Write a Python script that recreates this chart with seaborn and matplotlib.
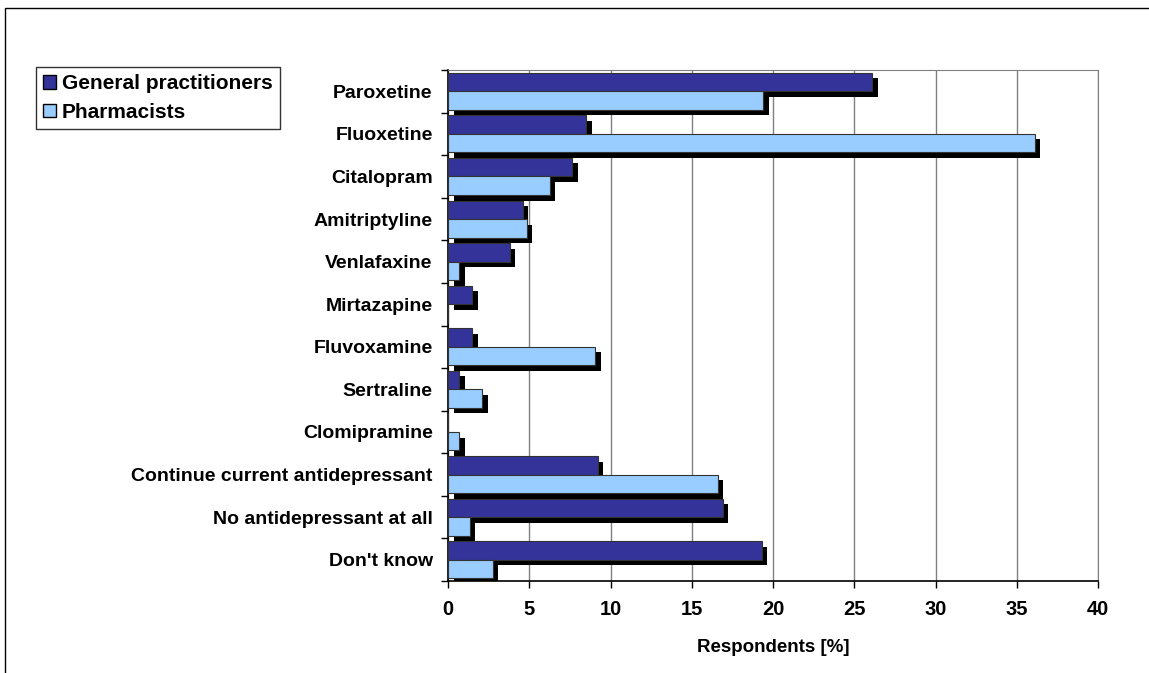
import pandas as pd
import numpy as np
import seaborn as sns
import matplotlib.pyplot as plt
import matplotlib.patheffects as pe
from matplotlib.patches import Rectangle, Patch

drugs = ['Paroxetine', 'Fluoxetine', 'Citalopram', 'Amitriptyline', 'Venlafaxine',
         'Mirtazapine', 'Fluvoxamine', 'Sertraline', 'Clomipramine',
         'Continue current antidepressant', 'No antidepressant at all', "Don't know"]
gp = [26.1, 8.5, 7.65, 4.6, 3.8, 1.5, 1.5, 0.7, 0.0, 9.2, 16.9, 19.3]
pharm = [19.4, 36.1, 6.25, 4.85, 0.7, 0.0, 9.05, 2.1, 0.7, 16.6, 1.35, 2.75]
groups = ['General practitioners', 'Pharmacists']
colors = ['#333399', '#99ccff']
xticks = [0, 5, 10, 15, 20, 25, 30, 35, 40]

df = pd.DataFrame({
    'drug': drugs * 2,
    'value': gp + pharm,
    'group': [groups[0]] * len(drugs) + [groups[1]] * len(drugs),
})

sns.set_style('white')
plt.rcParams['font.family'] = ['Liberation Sans', 'DejaVu Sans']
plt.rcParams['text.color'] = 'black'
plt.rcParams['xtick.color'] = 'black'
plt.rcParams['ytick.color'] = 'black'
plt.rcParams['axes.labelcolor'] = 'black'

fig = plt.figure(figsize=(11.49, 6.73), dpi=100)
ax = fig.add_axes([448 / 1149, 1 - 581 / 673, 650 / 1149, 511 / 673])

ax = sns.barplot(data=df, y='drug', x='value', hue='group', orient='h',
                 palette=colors, width=0.87, saturation=1,
                 edgecolor='#333333', linewidth=0.8, ax=ax, zorder=3, legend=False)

# drop shadow like the old excel charts
for p in ax.patches:
    p.set_path_effects([pe.SimplePatchShadow(offset=(4, -4), shadow_rgbFace='black', alpha=1),
                        pe.Normal()])

ax.set_xlim(0, 40)
ax.set_ylim(11.5, -0.5)
ax.set_xticks(xticks)
ax.set_xticklabels([str(t) for t in xticks], fontsize=14.5, fontweight='bold')
ax.set_yticks(range(len(drugs)))
ax.set_yticklabels(drugs, fontsize=14, fontweight='bold')
ax.set_yticks(np.arange(-0.5, len(drugs), 1), minor=True)
ax.tick_params(axis='y', which='major', length=0, pad=11)
ax.tick_params(axis='y', which='minor', length=5, width=1, color='black', direction='out', left=True)
ax.tick_params(axis='x', length=5, width=1, color='black', direction='out', bottom=True, pad=9)
ax.xaxis.grid(True, color='#808080', linewidth=1, zorder=0)
ax.set_axisbelow(True)

for side in ['top', 'right']:
    ax.spines[side].set_color('#808080')
for side in ['left', 'bottom']:
    ax.spines[side].set_color('black')
    ax.spines[side].set_linewidth(1.2)

ax.set_ylabel('')
ax.set_xlabel('Respondents [%]', fontsize=13.5, fontweight='bold', labelpad=14)

handles = [Patch(facecolor=c, edgecolor='black', linewidth=1) for c in colors]
ax.legend(handles, groups, loc='upper left', bbox_to_anchor=(36 / 1149, 1 - 67 / 673),
          bbox_transform=fig.transFigure, frameon=True, fancybox=False, edgecolor='black',
          prop={'weight': 'bold', 'size': 15}, handlelength=0.6, handleheight=0.6,
          handletextpad=0.3, borderpad=0.35, labelspacing=0.45, borderaxespad=0)

# outer chart border
fig.patches.append(Rectangle((5 / 1149, -0.1), 1.2, 1 - 8 / 673 + 0.1, transform=fig.transFigure,
                             fill=False, edgecolor='black', linewidth=1))

fig.savefig('out.png', dpi=100)
